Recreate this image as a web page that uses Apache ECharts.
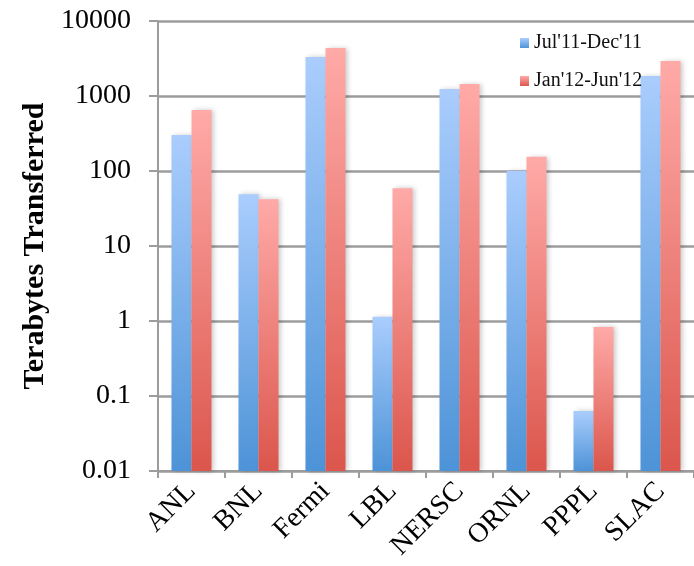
<!DOCTYPE html>
<html>
<head>
<meta charset="utf-8">
<script src="https://cdn.jsdelivr.net/npm/echarts@6/dist/echarts.min.js"></script>
<style>
  html, body { margin: 0; padding: 0; background: #fff; }
  #chart { width: 694px; height: 566px; }
</style>
</head>
<body>
<div id="chart"></div>
<script>
// sites on the x axis
const sites = ['ANL', 'BNL', 'Fermi', 'LBL', 'NERSC', 'ORNL', 'PPPL', 'SLAC'];
// terabytes transferred
const firstHalf = [302, 49, 3310, 1.14, 1240, 101, 0.063, 1850];
const secondHalf = [650, 42, 4370, 59, 1450, 155, 0.83, 2930];
const seriesNames = ["Jul'11-Dec'11", "Jan'12-Jun'12"];

const serif = '"Liberation Serif", "DejaVu Serif", serif';
const gridGray = '#9c9c9c';

// vertical gradient, light at top, dark at bottom
function grad(top, bottom) {
  return new echarts.graphic.LinearGradient(0, 0, 0, 1, [
    { offset: 0, color: top },
    { offset: 1, color: bottom }
  ]);
}

const chart = echarts.init(document.getElementById('chart'));

const option = {
  animation: false,
  legend: {
    orient: 'vertical',
    left: 515,
    top: 28,
    itemWidth: 9,
    itemHeight: 10,
    itemGap: 18,
    icon: 'rect',
    textStyle: { fontFamily: serif, fontSize: 20, color: '#111' },
    data: seriesNames
  },
  grid: { left: 158, right: -14, top: 21, bottom: 95, containLabel: false },
  xAxis: {
    type: 'category',
    data: sites,
    axisLine: { lineStyle: { color: gridGray, width: 2 } },
    axisTick: { show: true, length: 7, lineStyle: { color: gridGray, width: 2 } },
    axisLabel: {
      rotate: 45,
      margin: 16,
      fontFamily: serif,
      fontSize: 28,
      color: '#000'
    }
  },
  yAxis: {
    type: 'log',
    min: 0.01,
    max: 10000,
    logBase: 10,
    startValue: 0.01,
    name: 'Terabytes Transferred',
    nameLocation: 'middle',
    nameRotate: 90,
    nameGap: 108,
    nameTextStyle: { fontFamily: serif, fontSize: 30, fontWeight: 'bold', color: '#000' },
    axisLine: { show: true, lineStyle: { color: gridGray, width: 2 } },
    axisTick: { show: true, length: 9, lineStyle: { color: gridGray, width: 2 } },
    splitLine: { lineStyle: { color: gridGray, width: 2.5 } },
    axisLabel: {
      margin: 27,
      fontFamily: serif,
      fontSize: 28,
      color: '#000',
      formatter: function (v) { return String(v); }
    }
  },
  series: [
    {
      name: seriesNames[0],
      type: 'bar',
      data: firstHalf,
      barWidth: 20,
      barGap: '0%',
      itemStyle: {
        color: grad('#aacdfd', '#4d93d7'),
        shadowBlur: 5,
        shadowOffsetX: 2,
        shadowColor: 'rgba(0,0,0,0.22)'
      }
    },
    {
      name: seriesNames[1],
      type: 'bar',
      data: secondHalf,
      barWidth: 20,
      barGap: '0%',
      itemStyle: {
        color: grad('#ffaaa8', '#db564c'),
        shadowBlur: 5,
        shadowOffsetX: 2,
        shadowColor: 'rgba(0,0,0,0.22)'
      }
    }
  ]
};

chart.setOption(option);
</script>
</body>
</html>
